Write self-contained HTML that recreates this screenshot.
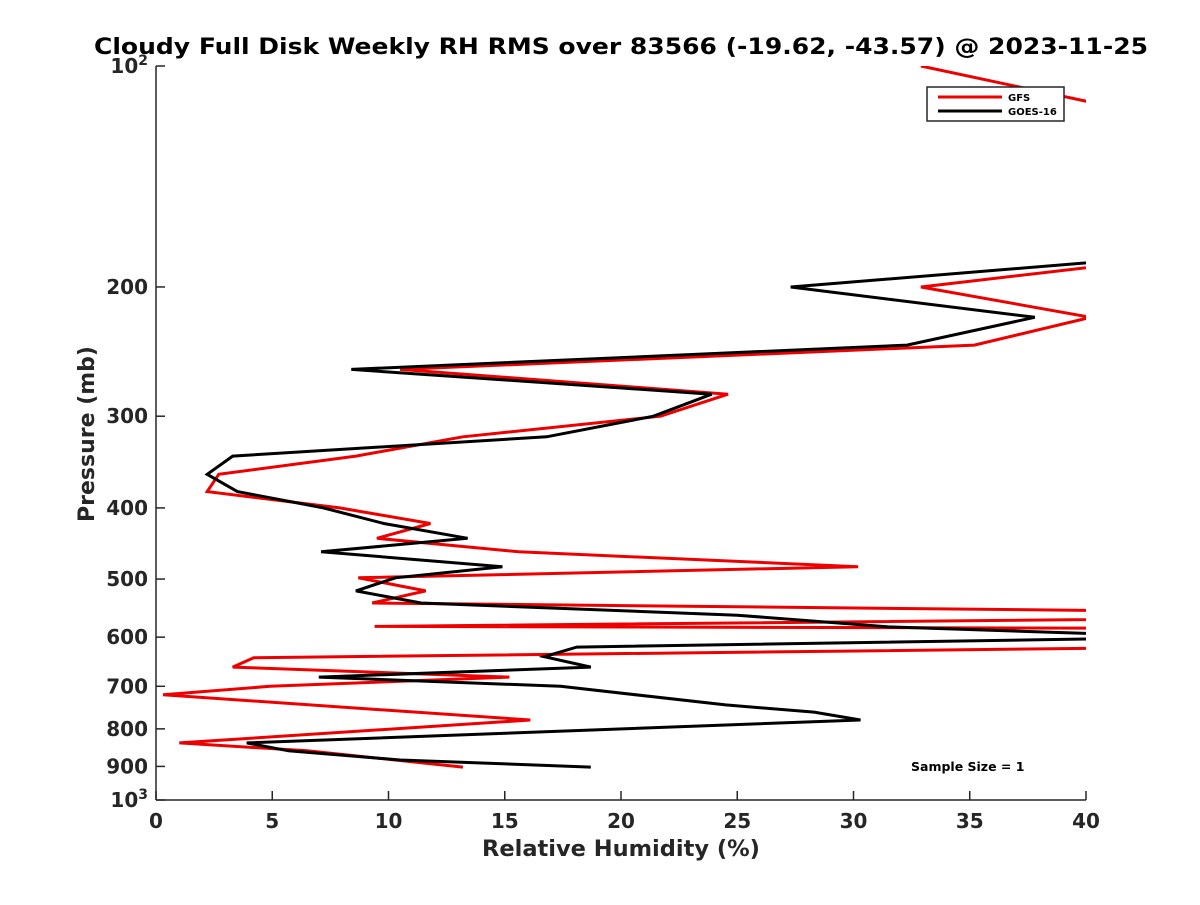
<!DOCTYPE html>
<html><head><meta charset="utf-8"><style>
body{margin:0;background:#fff;}
svg text{font-family:"DejaVu Sans","Liberation Sans",sans-serif;font-weight:bold;fill:#262626;}
</style></head><body>
<svg id="chart" width="1200" height="900" viewBox="0 0 1200 900">
<defs><clipPath id="plotclip"><rect x="156" y="66" width="930" height="734"/></clipPath></defs>
<text x="621" y="54" font-size="22" text-anchor="middle" textLength="1054" lengthAdjust="spacingAndGlyphs" style="fill:#000">Cloudy Full Disk Weekly RH RMS over 83566 (-19.62, -43.57) @ 2023-11-25</text>
<g id="axes"></g>
<g id="series" clip-path="url(#plotclip)"></g>
<g>
<rect x="927" y="87" width="137" height="34" fill="#fff" stroke="#262626" stroke-width="1.5"/>
<line x1="938" y1="97" x2="1002" y2="97" stroke="#e00" stroke-width="3"/>
<text x="1008" y="101" font-size="10" style="fill:#000">GFS</text>
<line x1="938" y1="111" x2="1002" y2="111" stroke="#000" stroke-width="3"/>
<text x="1008" y="115" font-size="10" style="fill:#000">GOES-16</text>
</g>
<text x="911" y="771" font-size="12.5" style="fill:#000">Sample Size = 1</text>
<text x="621" y="856" font-size="22.5" text-anchor="middle">Relative Humidity (%)</text>
<text x="0" y="0" font-size="22" text-anchor="middle" transform="translate(94,434) rotate(-90)">Pressure (mb)</text>
</svg>
<script>
const xTicks=[0,5,10,15,20,25,30,35,40];
const yTicks=[200,300,400,500,600,700,800,900];
const gfsPressure=[100,115,180,200,220,240,259,280,300,320,340,360,380,400,420,440,459,481,498,519,539,560,580,600,619,640,659,680,700,719,778,836,857,902];
const gfsRH=[32.9,41.9,45.3,32.9,40.2,35.2,10.5,24.6,21.7,13.2,8.6,2.7,2.2,7.9,11.8,9.5,15.6,30.2,8.7,11.6,9.3,60,9.4,200,45,4.2,3.3,15.2,4.9,0.3,16.1,1.0,6.5,13.2];
const goesPressure=[180,200,220,240,259,280,300,320,340,360,380,400,420,440,459,481,498,519,539,560,581,600,619,638,659,680,700,742,759,778,836,857,882,902];
const goesRH=[45,27.3,37.8,32.3,8.4,23.9,21.4,16.8,3.3,2.2,3.5,7.2,9.8,13.4,7.1,14.9,10.3,8.6,11.4,25,31.5,45,18.1,16.7,18.7,7.0,17.4,24.5,28.3,30.3,3.9,5.7,10.5,18.7];
const X0=156,X1=1086,Y0=66,Y1=800;
function xs(v){return X0+(v/40)*(X1-X0);}
function ys(p){return Y0+(Math.log10(p)-2)*(Y1-Y0);}
const NS="http://www.w3.org/2000/svg";
const ax=document.getElementById('axes');
function mk(tag,attrs,parent){const e=document.createElementNS(NS,tag);for(const k in attrs)e.setAttribute(k,attrs[k]);parent.appendChild(e);return e;}
let l=mk('line',{x1:X0,y1:Y0,x2:X0,y2:Y1,stroke:'#262626','stroke-width':1.5},ax);


l=mk('line',{x1:X0,y1:Y1,x2:X1,y2:Y1,stroke:'#262626','stroke-width':1.5},ax);


xTicks.forEach(v=>{const x=xs(v);
 const t=mk('line',{x1:x,y1:Y1,x2:x,y2:Y1-9,stroke:'#262626','stroke-width':1.5},ax);
 
 
 const tx=mk('text',{x:x,y:Y1+28,'font-size':20,'text-anchor':'middle'},ax);tx.textContent=v;
 
 
});
[100].concat(yTicks,[1000]).forEach(p=>{const y=ys(p);
 const t=mk('line',{x1:X0,y1:y,x2:X0+9,y2:y,stroke:'#262626','stroke-width':1.5},ax);
 
 
 const tx=mk('text',{x:X0-8,y:y+7,'font-size':20,'text-anchor':'end'},ax);
 if(p===100||p===1000){tx.textContent='10';const s=mk('tspan',{dy:-8,'font-size':14},tx);s.textContent=(p===100?'2':'3');}
 else tx.textContent=p;
 
 
});
const sg=document.getElementById('series');
function line(P,R,color,name){
 const d=P.map((p,i)=>(i?'L':'M')+xs(R[i]).toFixed(1)+','+ys(p).toFixed(1)).join(' ');
 const e=mk('path',{d:d,fill:'none',stroke:color,'stroke-width':3,'stroke-linejoin':'miter'},sg);
 
 
}
line(gfsPressure,gfsRH,'#e00','gfs-line');
line(goesPressure,goesRH,'#000','goes16-line');
</script>
</body></html>
